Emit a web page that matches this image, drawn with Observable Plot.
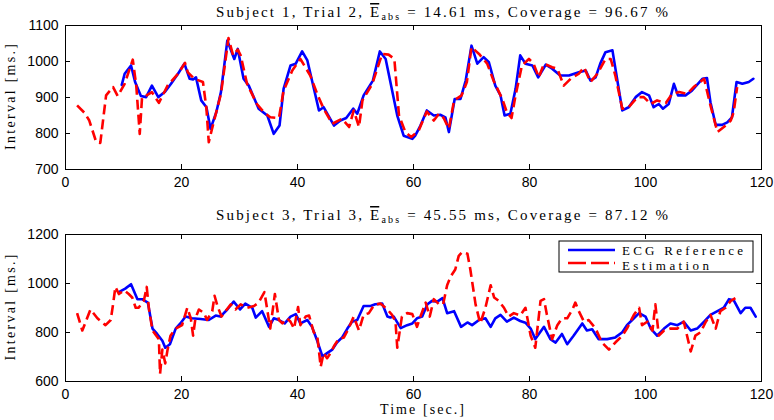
<!DOCTYPE html>
<html><head><meta charset="utf-8">
<script src="https://cdn.jsdelivr.net/npm/d3@7"></script>
<script src="https://cdn.jsdelivr.net/npm/@observablehq/plot@0.6"></script>
<style>
body{margin:0;background:#fff;}
#chart{width:774px;height:420px;overflow:hidden;background:#fff;}
#chart svg{display:block;}
</style></head><body><div id="chart"></div>
<script>
// ---------- data ----------
const xTicks = [0, 20, 40, 60, 80, 100, 120];
const topYTicks = [700, 800, 900, 1000, 1100];
const bottomYTicks = [600, 800, 1000, 1200];
const seriesNames = ["ECG Reference", "Estimation"];
const topInfo = {subject: 1, trial: 2, eabs: "14.61", coverage: "96.67"};
const bottomInfo = {subject: 3, trial: 3, eabs: "45.55", coverage: "87.12"};
const xLabel = "Time [sec.]";
const yLabel = "Interval [ms.]";

// [time (s), interval (ms)]
const topReference = [[9.7,935],[10.2,966],[11.3,989],[12.0,943],[13.0,904],[13.9,901],[14.9,933],[16.0,901],[17.1,915],[18.2,938],[19.4,966],[20.5,994],[21.4,952],[22.0,950],[22.5,956],[23.4,892],[24.3,873],[25.0,813],[26.0,859],[26.8,915],[27.9,1058],[29.1,1007],[29.7,1035],[30.7,952],[31.6,933],[33.3,869],[34.8,850],[35.9,799],[36.9,822],[37.6,924],[38.8,989],[39.7,994],[40.8,1028],[41.7,1003],[43.7,864],[44.5,873],[46.3,822],[47.4,836],[48.4,843],[49.6,869],[50.3,855],[51.4,906],[53.0,947],[54.2,1028],[55.2,1007],[57.2,850],[58.3,794],[59.8,785],[60.3,794],[61.2,822],[62.3,864],[63.5,850],[64.6,852],[65.5,845],[66.1,804],[67.1,896],[68.1,896],[69.0,947],[70.0,1044],[71.0,994],[72.1,1012],[73.0,998],[74.1,933],[75.0,906],[75.7,850],[76.7,855],[77.6,924],[78.4,1017],[79.3,994],[80.5,989],[81.5,956],[82.8,991],[83.9,980],[85.3,961],[86.8,961],[88.5,970],[89.7,975],[90.5,947],[91.4,956],[92.2,994],[93.1,1026],[94.3,1031],[95.1,952],[96.0,864],[97.1,873],[98.3,901],[99.4,915],[100.6,906],[101.4,873],[102.3,882],[103.0,869],[104.0,882],[104.9,938],[105.6,906],[106.9,906],[108.0,919],[109.8,952],[110.6,954],[111.2,887],[112.1,824],[113.2,824],[114.1,831],[114.9,845],[115.7,943],[116.7,938],[117.8,943],[118.6,952]];
const topEstimation = [[2.0,878],[3.3,857],[4.1,836],[5.3,776],[6.0,774],[7.0,906],[8.2,929],[9.0,904],[10.2,938],[11.6,1005],[12.2,933],[12.8,799],[13.2,901],[13.9,905],[14.9,915],[16.1,885],[17.6,933],[19.4,966],[20.6,996],[21.1,970],[22.2,952],[23.7,943],[24.3,869],[24.7,776],[25.4,822],[26.8,910],[28.1,1065],[28.9,1017],[29.7,1033],[30.2,1017],[31.3,938],[33.0,882],[34.2,859],[35.3,845],[36.8,843],[37.6,919],[39.1,975],[40.5,1007],[42.2,961],[43.5,906],[44.5,869],[46.0,827],[47.7,841],[48.9,818],[49.7,864],[50.6,818],[51.2,892],[52.9,938],[54.6,1021],[55.7,1019],[56.7,1007],[57.5,850],[58.6,804],[59.6,790],[60.9,808],[61.5,831],[62.3,861],[63.5,836],[64.4,855],[65.2,843],[66.1,813],[67.0,892],[68.3,906],[69.2,943],[70.0,1040],[71.3,1021],[72.7,994],[73.8,947],[75.3,896],[76.1,859],[76.9,843],[77.6,906],[78.7,989],[79.9,1007],[80.7,994],[81.6,956],[82.5,994],[83.9,984],[84.8,980],[85.9,933],[87.1,952],[88.5,966],[89.4,984],[90.5,943],[91.7,966],[93.1,1007],[94.0,1007],[94.8,961],[96.0,869],[97.1,873],[98.6,901],[99.7,901],[100.9,882],[102.0,892],[103.5,885],[104.6,910],[105.8,915],[107.2,910],[108.3,929],[110.1,952],[111.2,878],[112.4,804],[113.5,818],[114.7,836],[115.2,859],[115.8,929]];
const bottomReference = [[9.2,965],[10.3,979],[11.3,997],[12.4,936],[13.2,936],[14.2,922],[15.0,816],[15.8,794],[16.7,766],[17.2,738],[18.0,752],[19.0,816],[19.8,837],[20.7,865],[21.8,858],[23.3,855],[24.7,851],[25.9,869],[26.7,865],[27.9,894],[29.0,926],[30.1,894],[31.0,918],[32.2,901],[32.8,861],[33.9,887],[35.1,823],[35.9,858],[36.8,851],[37.8,837],[38.8,865],[39.7,875],[40.5,837],[41.7,851],[42.5,823],[43.4,766],[44.3,702],[45.1,716],[46.0,730],[46.8,759],[47.7,780],[48.6,816],[49.4,844],[50.3,851],[51.4,908],[52.6,908],[53.4,915],[54.6,918],[55.5,865],[56.0,861],[56.6,865],[57.8,818],[58.9,830],[59.8,837],[60.6,858],[61.5,865],[62.4,915],[63.2,929],[64.1,926],[65.0,940],[65.8,879],[67.0,887],[68.2,823],[69.3,841],[70.1,830],[71.3,851],[72.4,858],[73.3,823],[74.1,858],[75.0,872],[76.1,844],[77.3,861],[78.4,847],[79.3,840],[80.2,816],[81.0,773],[82.5,823],[83.6,773],[84.5,759],[85.6,794],[86.5,752],[87.6,787],[89.1,837],[89.9,808],[90.8,813],[91.9,773],[93.4,773],[94.8,780],[96.0,801],[96.8,830],[97.7,851],[98.9,879],[100.0,865],[100.9,816],[102.0,787],[103.2,816],[104.3,837],[105.5,830],[106.6,844],[107.8,808],[108.9,816],[110.1,844],[111.2,872],[112.4,887],[113.5,901],[114.4,936],[115.2,932],[116.4,879],[117.2,901],[118.1,901],[119.0,865]];
const bottomEstimation = [[2.0,879],[2.9,808],[4.3,894],[5.5,858],[6.9,830],[7.8,851],[8.2,915],[8.6,986],[9.2,957],[10.1,972],[10.9,957],[11.5,943],[12.1,901],[12.6,901],[13.5,929],[14.0,986],[14.4,894],[15.0,808],[16.1,773],[16.3,631],[16.7,730],[17.2,674],[17.6,730],[18.1,787],[19.0,816],[20.1,830],[21.0,901],[21.6,858],[22.0,787],[22.4,858],[23.0,894],[23.9,879],[24.4,851],[25.3,887],[25.7,950],[26.2,908],[26.9,865],[27.8,894],[28.5,915],[29.3,894],[30.2,915],[31.3,901],[32.5,908],[33.3,922],[34.3,965],[35.3,816],[36.1,957],[36.8,851],[37.4,837],[38.2,858],[38.8,844],[39.4,816],[40.1,904],[40.5,830],[41.4,865],[42.0,869],[42.8,801],[43.4,787],[44.0,660],[44.5,716],[45.1,695],[45.7,716],[46.3,745],[47.1,773],[48.0,780],[48.8,816],[49.7,865],[50.6,808],[51.4,872],[52.3,879],[53.2,912],[54.3,918],[55.5,894],[56.3,872],[56.9,844],[57.2,738],[58.0,865],[58.9,879],[59.8,875],[60.6,823],[61.2,865],[62.1,922],[62.8,865],[63.5,936],[64.4,915],[65.1,915],[65.8,993],[66.4,1028],[67.2,1057],[67.8,1113],[68.4,1128],[69.3,1121],[69.8,1057],[70.7,915],[71.5,837],[72.4,901],[73.3,993],[73.9,943],[74.7,929],[75.6,901],[76.4,865],[77.3,879],[78.4,869],[79.3,901],[80.2,787],[81.0,738],[81.9,929],[82.5,936],[83.0,872],[83.9,773],[84.8,830],[85.6,858],[86.5,858],[87.4,894],[87.9,922],[88.5,887],[89.4,844],[90.2,851],[91.4,816],[92.5,759],[93.7,730],[94.8,759],[96.0,787],[96.8,816],[98.0,872],[98.9,901],[99.4,830],[100.3,844],[101.2,808],[101.7,915],[102.3,787],[103.2,808],[104.3,816],[105.5,816],[106.6,844],[107.8,723],[108.6,787],[109.5,801],[110.4,844],[111.2,872],[112.1,816],[112.9,887],[113.8,901],[114.7,929],[115.5,940]];

// ---------- drawing ----------
const BLUE = "#0000ff", RED = "#ff0000";
const SERIF = "'Liberation Serif', 'DejaVu Serif', serif";
const toRows = arr => arr.map(([t, v]) => ({t, v}));

function panel({ref, est, yDomain, yTicks, height, marginTop, marginBottom, xPad, info, titleY, yLabelX}) {
  const frameH = height - marginTop - marginBottom;
  const svg = Plot.plot({
    width: 774, height, marginLeft: 65, marginRight: 13, marginTop, marginBottom,
    x: {domain: [0, 120]},
    y: {domain: yDomain},
    style: {fontFamily: "'Liberation Sans', Arial, sans-serif", fontSize: "14px", background: "white", color: "black", overflow: "visible"},
    marks: [
      Plot.line(toRows(ref), {x: "t", y: "v", stroke: BLUE, strokeWidth: 2.6}),
      Plot.line(toRows(est), {x: "t", y: "v", stroke: RED, strokeWidth: 2.6, strokeDasharray: "10,5", strokeLinecap: "butt"}),
      Plot.tickX(xTicks, {x: d => d, insetTop: frameH - 5, stroke: "black"}),
      Plot.tickX(xTicks, {x: d => d, insetBottom: frameH - 5, stroke: "black"}),
      Plot.tickY(yTicks, {y: d => d, insetRight: 691, stroke: "black"}),
      Plot.tickY(yTicks, {y: d => d, insetLeft: 691, stroke: "black"}),
      Plot.frame({stroke: "black"}),
      Plot.axisX({ticks: xTicks, tickSize: 0, tickPadding: xPad, label: null, tickFormat: d => String(d)}),
      Plot.axisY({ticks: yTicks, tickSize: 0, tickPadding: 7, label: null, tickFormat: d => String(d)})
    ]
  });
  const s = d3.select(svg);
  const t = s.append("text")
    .attr("x", 442).attr("y", titleY)
    .attr("text-anchor", "middle")
    .style("font-family", SERIF).style("font-size", "15px")
    .attr("textLength", 452).attr("lengthAdjust", "spacing")
    .style("white-space", "pre");
  t.append("tspan").text(`Subject ${info.subject}, Trial ${info.trial}, `);
  t.append("tspan").style("text-decoration", "overline").text("E");
  t.append("tspan").attr("dy", 3).style("font-size", "10px").text("abs");
  t.append("tspan").attr("dy", -3).text(` = ${info.eabs} ms, Coverage = ${info.coverage} %`);
  s.append("text")
    .attr("transform", `translate(${yLabelX},${marginTop + frameH / 2}) rotate(-90)`)
    .attr("text-anchor", "middle")
    .style("font-family", SERIF).style("font-size", "14px")
    .attr("textLength", 106).attr("lengthAdjust", "spacing")
    .text(yLabel);
  return svg;
}

const chartEl = document.getElementById("chart");
const topPanel = panel({ref: topReference, est: topEstimation, yDomain: [700, 1100], yTicks: topYTicks,
  height: 205, marginTop: 25, marginBottom: 36, xPad: 8, info: topInfo, titleY: 17, yLabelX: 15});
chartEl.appendChild(topPanel);
const bottomPanel = panel({ref: bottomReference, est: bottomEstimation, yDomain: [600, 1200], yTicks: bottomYTicks,
  height: 215, marginTop: 29, marginBottom: 39, xPad: 8, info: bottomInfo, titleY: 15, yLabelX: 15});
chartEl.appendChild(bottomPanel);

// x label and legend on the bottom panel
const b = d3.select(bottomPanel);
b.append("text").attr("x", 422).attr("y", 209).attr("text-anchor", "middle")
  .style("font-family", SERIF).style("font-size", "14px")
  .attr("textLength", 84).attr("lengthAdjust", "spacing").text(xLabel);
const lg = b.append("g").attr("text-anchor", "start");
lg.append("rect").attr("x", 559).attr("y", 36).attr("width", 194).attr("height", 31)
  .attr("fill", "white").attr("stroke", "black");
const legendItems = [
  {name: seriesNames[0], color: BLUE, dash: null, y: 45, base: 50, width: 121},
  {name: seriesNames[1], color: RED, dash: "18,5", y: 58, base: 64.5, width: 87}
];
for (const it of legendItems) {
  lg.append("line").attr("x1", 568).attr("x2", 615).attr("y1", it.y).attr("y2", it.y)
    .attr("stroke", it.color).attr("stroke-width", 2.6).attr("stroke-dasharray", it.dash);
  lg.append("text").attr("x", 622).attr("y", it.base).attr("text-anchor", "start")
    .style("font-family", SERIF).style("font-size", "13px")
    .attr("textLength", it.width).attr("lengthAdjust", "spacing").text(it.name);
}
</script></body></html>
